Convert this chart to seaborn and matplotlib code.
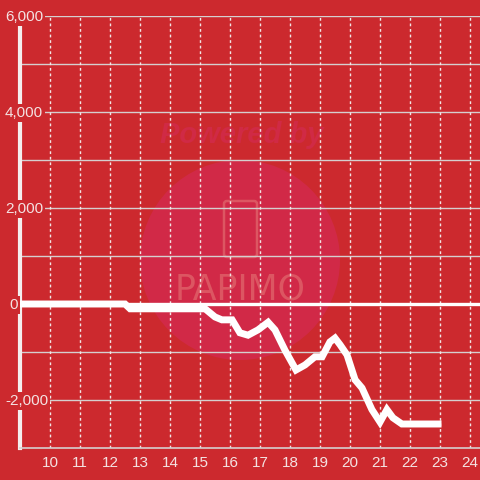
import matplotlib
matplotlib.use("Agg")
import matplotlib.pyplot as plt
import matplotlib.transforms as mtransforms
from matplotlib.patches import Circle, FancyBboxPatch
import seaborn as sns
import pandas as pd

# data
x_vals = [9.0, 12.5, 12.67, 15.17, 15.5, 15.73, 16.07, 16.33, 16.6, 16.93, 17.27,
          17.5, 17.83, 18.2, 18.5, 18.83, 19.07, 19.33, 19.5, 19.67, 19.9, 20.17,
          20.4, 20.73, 21.0, 21.23, 21.43, 21.73, 23.05]
y_vals = [0, 0, -100, -100, -270, -330, -330, -600, -650, -540, -380,
          -540, -960, -1375, -1270, -1100, -1100, -790, -710, -850, -1060, -1580,
          -1750, -2200, -2460, -2200, -2370, -2500, -2500]
x_ticks = list(range(10, 25))
y_ticks = [-2000, 0, 2000, 4000, 6000]
y_tick_labels = ["-2,000", "0", "2,000", "4,000", "6,000"]
y_grid = [-2000, -1000, 1000, 2000, 3000, 4000, 5000, 6000]

BG = "#cc292e"
TXT = "#f4e2e2"

sns.set_style("white")
plt.rcParams["font.family"] = ["Liberation Sans", "DejaVu Sans"]

fig = plt.figure(figsize=(4.8, 4.8), dpi=100, facecolor=BG)
ax = fig.add_axes([20/480, 32/480, 460/480, 432/480])
ax.set_facecolor(BG)

# watermark
ax.add_patch(Circle((240/480, 1 - 260/480), 100/480, transform=fig.transFigure,
                    facecolor="#d22a4c", edgecolor="none", alpha=0.85, zorder=0.1))
ax.text(242/480, 1 - 135/480, "Powered by", transform=fig.transFigure, ha="center", va="center",
        fontsize=21, fontweight="bold", fontstyle="italic", color="#d02a45", zorder=0.2)
ax.text(240/480, 1 - 289/480, "PAPIMO", transform=fig.transFigure, ha="center", va="center",
        fontsize=25, fontweight="normal", color="#dc5662", zorder=0.2, family="DejaVu Sans")
ax.add_patch(FancyBboxPatch((224/480, 1 - 257/480), 33/480, 56/480, transform=fig.transFigure,
                            boxstyle="round,pad=0,rounding_size=0.006", facecolor="none",
                            edgecolor="#dc5662", lw=1.8, zorder=0.2))

# grid
for g in y_grid:
    ax.axhline(g, color="#d5cfcf", lw=1, zorder=0.5)
for xt in x_ticks:
    ax.axvline(xt, color="#f2e6e6", lw=1, ls=(0, (2, 2)), zorder=0.5)
ax.axhline(0, color="white", lw=2.4, zorder=0.6)

df = pd.DataFrame({"x": x_vals, "y": y_vals})
sns.lineplot(data=df, x="x", y="y", ax=ax, color="white", lw=5, zorder=3,
             solid_joinstyle="miter", solid_capstyle="butt")

ax.set_xlim(9, 24.333)
ax.set_ylim(-3000, 6000)
ax.set_xlabel("")
ax.set_ylabel("")
ax.set_xticks(x_ticks)
ax.set_xticklabels([str(v) for v in x_ticks], color=TXT, fontsize=11)
ax.tick_params(axis="x", length=0, pad=6)
ax.set_yticks([])

for s in ["top", "right"]:
    ax.spines[s].set_visible(False)
ax.spines["left"].set_color("#f4eeee")
ax.spines["left"].set_linewidth(3)
ax.spines["bottom"].set_color("#d5cfcf")
ax.spines["bottom"].set_linewidth(1.2)

trans = mtransforms.blended_transform_factory(fig.transFigure, ax.transData)
for v, lab in zip(y_ticks, y_tick_labels):
    ax.text(5/480 if v != 0 else 9/480, v - 20, lab, transform=trans, ha="left", va="center",
            fontsize=11, color=TXT, zorder=5, clip_on=False,
            bbox=dict(facecolor=BG, edgecolor="none", pad=1.5))

fig.savefig("out.png", dpi=100, facecolor=BG)
